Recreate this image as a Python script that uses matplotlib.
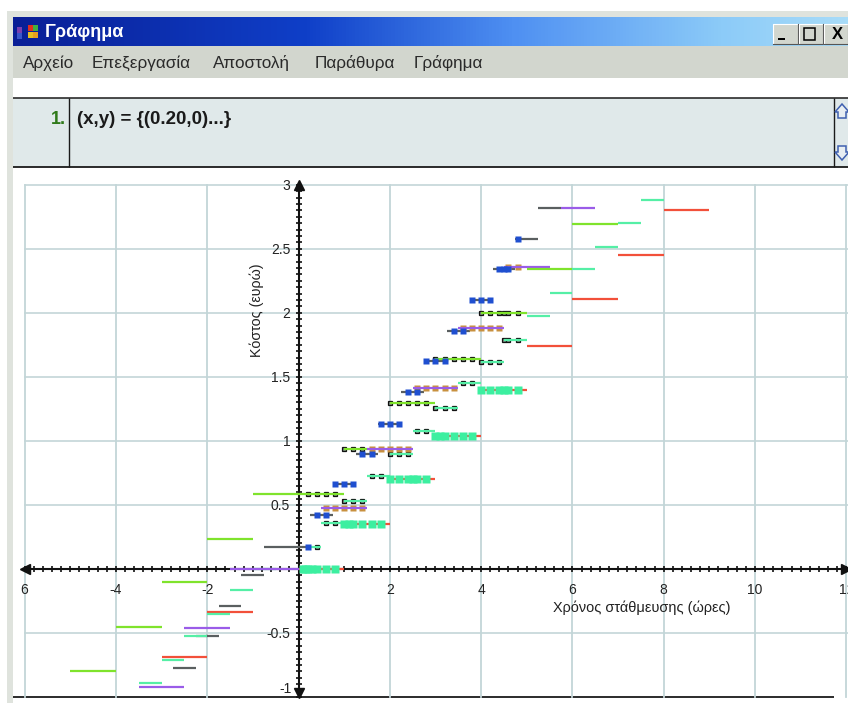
import numpy as np
import matplotlib
matplotlib.use("Agg")
import matplotlib.pyplot as plt
from matplotlib.patches import Rectangle, Polygon

plt.rcParams['font.family'] = ['Liberation Sans', 'DejaVu Sans']

# ---------- data: (x start, x end, y) ----------
lime_segments = [(-5,-4,-0.80),(-4,-3,-0.45),(-3,-2,-0.10),(-2,-1,0.235),(-1,1,0.585),(1,1.5,0.935),
                 (2,3,1.295),(3,4,1.64),(4,5,2.0),(5,6,2.345),(6,7,2.695)]
purple_segments = [(-3.5,-2.5,-0.92),(-2.5,-1.5,-0.46),(-1.5,0,0.0),(0.5,1.5,0.475),(1.5,2.5,0.935),
                   (2.5,3.5,1.41),(3.5,4.5,1.885),(4.5,5.5,2.355),(5.75,6.5,2.82)]
red_segments = [(-3,-2,-0.685),(-2,-1,-0.335),(0,1,0.0),(1,2,0.35),(2,3,0.70),(3,4,1.04),(4,5,1.395),
                (5,6,1.745),(6,7,2.105),(7,8,2.45),(8,9,2.80)]
spring_segments = [(-3.5,-3,-0.89),(-3,-2.5,-0.71),(-2.5,-2,-0.525),(-2,-1.5,-0.35),(-1.5,-1,-0.165),
                   (-1,-0.5,0.0),(0.25,0.5,0.175),(0.5,1,0.355),(1,1.5,0.53),(1.5,2,0.725),(2,2.5,0.895),
                   (2.5,3,1.08),(3,3.5,1.255),(3.5,4,1.45),(4,4.5,1.62),(4.5,5,1.79),(5,5.5,1.975),
                   (5.5,6,2.155),(6,6.5,2.345),(6.5,7,2.515),(7,7.5,2.70),(7.5,8,2.88)]
gray_segments = [(-2.75,-2.25,-0.77),(-2.25,-1.75,-0.525),(-1.75,-1.25,-0.29),(-1.25,-0.75,-0.05),
                 (-0.75,0.25,0.175),(0.25,0.75,0.42),(0.75,1.25,0.66),(1.25,1.75,0.90),(1.75,2.25,1.135),
                 (2.25,2.75,1.38),(2.75,3.25,1.625),(3.25,3.75,1.855),(3.75,4.25,2.10),(4.25,4.75,2.345),
                 (4.75,5.25,2.58),(5.25,5.75,2.82)]

blue_y = [0.175,0.42,0.66,0.90,1.135,1.38,1.625,1.855,2.10,2.345,2.58]
blue_x = [[0.2],[0.4,0.6],[0.8,1,1.2],[1.4,1.6],[1.8,2,2.2],[2.4,2.6],[2.8,3,3.2],[3.4,3.6],[3.8,4,4.2],
          [4.4,4.5,4.6],[4.8]]
orange_y = [0.475,0.935,1.41,1.885,2.355]
orange_x = [[0.6,0.8,1,1.2,1.4],[1.6,1.8,2,2.2,2.4],[2.6,2.8,3,3.2,3.4],[3.6,3.8,4,4.2,4.4],[4.6,4.8]]
black_y = [0.175,0.355,0.53,0.585,0.725,0.895,0.935,1.08,1.255,1.295,1.45,1.62,1.64,1.79,2.0]
black_x = [[0.4],[0.6,0.8],[1,1.2,1.4],[0.2,0.4,0.6,0.8],[1.6,1.8],[2,2.2,2.4],[1,1.2,1.4],[2.6,2.8],
           [3,3.2,3.4],[2,2.2,2.4,2.6,2.8],[3.6,3.8],[4,4.2,4.4],[3,3.2,3.4,3.6,3.8],[4.5,4.6,4.8],
           [4,4.2,4.4,4.5,4.6,4.8]]
mint_y = [0.0,0.35,0.70,1.04,1.395]
mint_x = [[0.1,0.15,0.2,0.3,0.4,0.6,0.8],[1,1.1,1.2,1.4,1.6,1.8],[2,2.2,2.4,2.5,2.6,2.8],
          [3,3.1,3.2,3.4,3.6,3.8],[4,4.2,4.4,4.5,4.6,4.8]]

x_ticks = [-6,-4,-2,2,4,6,8,10,12]
x_tick_labels = ['6','-4','-2','2','4','6','8','10','12']
y_ticks = [-0.5,0.5,1,1.5,2,2.5,3]
y_tick_labels = ['-0.5','0.5','1','1.5','2','2.5','3']
y_bottom_label = '-1'
x_title = 'Χρόνος στάθμευσης (ώρες)'
y_title = 'Κόστος (ευρώ)'
menu_items = ['Αρχείο','Επεξεργασία','Αποστολή','Παράθυρα','Γράφημα']
menu_left = [23,92,213,315,414]

W, H = 848, 703
fig = plt.figure(figsize=(W/100, H/100), dpi=100, facecolor='white')

# ---------- window chrome in pixel coordinates ----------
ui = fig.add_axes([0,0,1,1], zorder=0)
ui.set_xlim(0,W); ui.set_ylim(H,0); ui.axis('off')
def rect(x0,y0,x1,y1,c,**k):
    ui.add_patch(Rectangle((x0,y0),x1-x0,y1-y0,fc=c,ec='none',**k))
def hline(y,x0,x1,c='#1a1a1a',lw=1.1):
    ui.plot([x0,x1],[y,y],color=c,lw=lw,solid_capstyle='butt')
def vline(x,y0,y1,c='#1a1a1a',lw=1.0):
    ui.plot([x,x],[y0,y1],color=c,lw=lw,solid_capstyle='butt')

rect(7,11,W,H,'#dfe3dd')
rect(13,17,W,H,'white')
stops = [(0,'#0a1f96'),(0.35,'#0f3fc8'),(0.6,'#4f90f2'),(0.85,'#8ccbf8'),(1,'#a8dcf8')]
cmap = matplotlib.colors.LinearSegmentedColormap.from_list('tb',stops)
ui.imshow(np.linspace(0,1,256)[None,:],extent=(13,W,46,17),cmap=cmap,aspect='auto',zorder=1)
ui.set_xlim(0,W); ui.set_ylim(H,0)
rect(13,46,W,78,'#d2d6ce',zorder=1)
rect(13,98,W,167,'#e0e9ea',zorder=1)
hline(98,13,W); hline(167,13,W,lw=1.3)
vline(69,98,167); vline(834,98,167)
hline(697,13,834,lw=1.3)

# title bar
for (x0,y0,c) in [(17,27,'#7a3fb0'),(17,33,'#3a55c8'),(28,25,'#e03020'),(33,25,'#40b040'),(28,32,'#e8c020'),(33,32,'#e8a020')]:
    rect(x0,y0,x0+5,y0+6,c,zorder=2)
ui.text(45,32.5,'Γράφημα',color='white',fontsize=13,fontweight='bold',va='center',zorder=3)
for x0,x1 in [(773,798),(799,823),(824,848)]:
    rect(x0,24,x1,44,'#d2d6ce',zorder=2)
    ui.plot([x0,x0,x1],[44,24,24],color='white',lw=0.8,zorder=3)
    ui.plot([x0,x1,x1],[44,44,24],color='#555555',lw=0.8,zorder=3)
rect(778,38,785,40,'black',zorder=4)
ui.add_patch(Rectangle((804,28),11,12,fc='none',ec='black',lw=1.1,zorder=4))
ui.text(837,34.5,'X',color='black',fontsize=12,fontweight='bold',ha='center',va='center',zorder=4)

# menu
for t,x in zip(menu_items,menu_left):
    ui.text(x,63,t,color='#2a2a2a',fontsize=12.3,va='center',zorder=3)

# formula panel
ui.text(51,119.5,'1.',color='#2f7a1a',fontsize=13,fontweight='bold',va='center',zorder=3)
ui.text(77,120,'(x,y) = {(0.20,0)...}',color='#1a1a1a',fontsize=13.5,fontweight='bold',va='center',zorder=3)
for cy,s in [(111,1),(153,-1)]:
    ui.add_patch(Polygon([(835,cy+s*1),(842,cy-s*7),(849,cy+s*1),(846,cy+s*1),(846,cy+s*7),(838,cy+s*7),(838,cy+s*1)],
                         fc='#e8eef2',ec='#4060b0',lw=1.1,zorder=3))

# ---------- plot ----------
X0, X1 = -6, (W-298.5)/45.65
Y0, Y1 = (570-697)/128.4, 3
left, right, top, bottom = 298.5-6*45.65, W, 570-3*128.4, 697
ax = fig.add_axes([left/W,1-bottom/H,(right-left)/W,(bottom-top)/H],zorder=1)
ax.patch.set_alpha(0)
ax.set_xlim(X0,X1); ax.set_ylim(Y0,Y1)
GRID = '#c3d6d8'
for v in np.arange(-6,13,2):
    ax.axvline(v,color=GRID,lw=1.3,zorder=1,clip_on=False)
for v in np.arange(-0.5,3.01,0.5):
    ax.axhline(v,color=GRID,lw=1.2,zorder=1,clip_on=False)

for s in ['top','right']:
    ax.spines[s].set_visible(False)
for s in ['left','bottom']:
    ax.spines[s].set_position('zero')
    ax.spines[s].set_linewidth(1.5)
    ax.spines[s].set_color('#111111')
    ax.spines[s].set_zorder(2)
ax.set_xticks(x_ticks); ax.set_xticklabels(x_tick_labels,fontsize=10,color='#222222')
ax.set_yticks(y_ticks); ax.set_yticklabels(y_tick_labels,fontsize=10,color='#222222')
ax.set_xticks(np.arange(-6,12.01,0.2),minor=True)
ax.set_yticks(np.arange(-1,3.01,0.05),minor=True)
ax.tick_params(axis='both',which='both',direction='inout',color='#111111',width=1.2,length=4)
ax.tick_params(axis='x',which='major',pad=8)
ax.tick_params(axis='y',which='major',pad=4)

def draw(segs,c,lw=1.6,z=4):
    for a,b,y in segs:
        ax.plot([a,b],[y,y],color=c,lw=lw,zorder=z,solid_capstyle='butt')
draw(gray_segments,'#5a5f60',z=3)
draw(spring_segments,'#55efa6')
draw(red_segments,'#f2503a',z=3)
draw(purple_segments,'#9a5ce8')
draw(lime_segments,'#7fe32c')

def marks(ys,xs,z,**k):
    for y,row in zip(ys,xs):
        ax.plot(row,[y]*len(row),ls='none',marker='s',zorder=z,**k)
marks(mint_y,mint_x,5,color='#3cefa0',ms=5.5,mec='none')
marks(black_y,black_x,3.5,mfc='#7a8a80',mec='#111111',mew=0.9,ms=3.2)
marks(orange_y,orange_x,3.5,color='#c8913f',ms=4.2,mec='none')
marks(blue_y,blue_x,5,color='#1f4fd0',ms=4.4,mec='none')

# axis arrows
ax.plot([-6.0],[0],marker='<',color='#111111',ms=7,clip_on=False,zorder=6)
ax.plot([X1-0.05],[0],marker='>',color='#111111',ms=7,clip_on=False,zorder=6)
ax.plot([0],[3],marker='^',color='#111111',ms=7,clip_on=False,zorder=6)
ax.plot([0],[Y0+0.02],marker='v',color='#111111',ms=7,clip_on=False,zorder=6)

ax.text((292-298.5)/45.65,(570-690)/128.4,y_bottom_label,fontsize=10,color='#222222',ha='right',va='center')
ax.text((641.5-298.5)/45.65,(570-608.5)/128.4,x_title,fontsize=10.45,color='#222222',ha='center',va='center')
ax.text((257-298.5)/45.65,(570-311)/128.4,y_title,fontsize=10.3,color='#222222',rotation=90,ha='center',va='center')

fig.savefig('out.png',dpi=100)
